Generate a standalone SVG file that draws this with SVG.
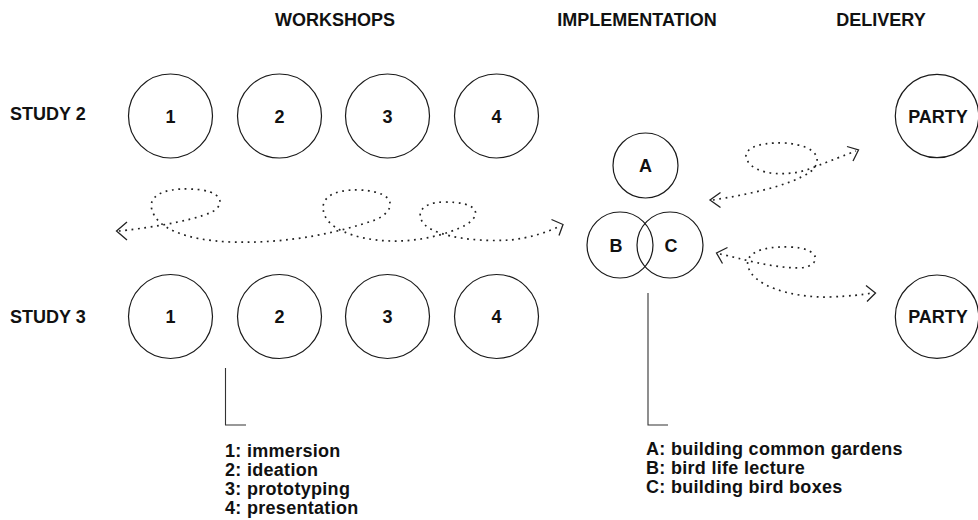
<svg xmlns="http://www.w3.org/2000/svg" width="978" height="520" viewBox="0 0 978 520">
<style>
.bg{fill:#ffffff}
.node{fill:none;stroke:#1a1a1a;stroke-width:1.2}
.t{font-family:"Liberation Sans",Arial,Helvetica,sans-serif;font-weight:bold;font-size:18px;fill:#111}
.c{text-anchor:middle}
.leg{font-family:"Liberation Sans",Arial,Helvetica,sans-serif;font-weight:bold;font-size:18px;fill:#111;letter-spacing:0.3px}
.dot{fill:none;stroke:#222;stroke-width:1.7;stroke-dasharray:1.8 4.6}
.head{fill:none;stroke:#222;stroke-width:1.3;stroke-linejoin:miter}
.line{fill:none;stroke:#333;stroke-width:1.1}
</style>
<rect class="bg" x="0" y="0" width="978" height="520"/>

<g id="headers">
<text class="t c" x="335" y="26">WORKSHOPS</text>
<text class="t c" x="637" y="26">IMPLEMENTATION</text>
<text class="t c" x="881" y="26">DELIVERY</text>
</g>

<g id="row-labels">
<text class="t" x="10" y="120">STUDY 2</text>
<text class="t" x="10" y="323">STUDY 3</text>
</g>

<g id="study2-w1"><circle class="node" cx="170.5" cy="116" r="42"/><text class="t c" x="170.5" y="122.5">1</text></g>
<g id="study2-w2"><circle class="node" cx="279.5" cy="116" r="42"/><text class="t c" x="279.5" y="122.5">2</text></g>
<g id="study2-w3"><circle class="node" cx="387.5" cy="116" r="42"/><text class="t c" x="387.5" y="122.5">3</text></g>
<g id="study2-w4"><circle class="node" cx="496.5" cy="116" r="42"/><text class="t c" x="496.5" y="122.5">4</text></g>

<g id="study3-w1"><circle class="node" cx="170.5" cy="316.5" r="42"/><text class="t c" x="170.5" y="323">1</text></g>
<g id="study3-w2"><circle class="node" cx="279.5" cy="316.5" r="42"/><text class="t c" x="279.5" y="323">2</text></g>
<g id="study3-w3"><circle class="node" cx="387.5" cy="316.5" r="42"/><text class="t c" x="387.5" y="323">3</text></g>
<g id="study3-w4"><circle class="node" cx="496.5" cy="316.5" r="42"/><text class="t c" x="496.5" y="323">4</text></g>

<g id="impl-A"><circle class="node" cx="645.5" cy="165.5" r="32.5"/><text class="t c" x="645.5" y="172">A</text></g>
<g id="impl-B"><circle class="node" cx="620" cy="245" r="33"/><text class="t c" x="616" y="251.5">B</text></g>
<g id="impl-C"><circle class="node" cx="670" cy="245" r="33"/><text class="t c" x="671" y="251.5">C</text></g>

<g id="party-2"><circle class="node" cx="937" cy="116" r="41.7"/><text class="t c" x="938" y="122.5">PARTY</text></g>
<g id="party-3"><circle class="node" cx="937" cy="316.7" r="41.7"/><text class="t c" x="938" y="323">PARTY</text></g>

<g id="connectors">
<path class="dot" d="M119,231 C140,229 190,222 212,212 C225,205 225,190 190,189 C160,188 148,198 152,210 C157,228 185,240 230,242 C290,244 340,232 375,220 C395,212 400,192 360,190 C330,189 318,200 325,216 C332,232 365,242 400,241 C430,240 460,230 470,222 C482,212 475,202 445,202 C420,202 415,215 425,225 C440,238 480,242 510,240 C530,238 548,232 560,226"/>
<polyline class="head" points="127,222 116.5,231 127,240"/>
<polyline class="head" points="551.5,219.5 563,224.5 559,235.5"/>

<path class="dot" d="M713,200 C745,195 790,186 810,172 C822,163 822,146 785,143 C755,142 742,150 747,160 C755,176 790,177 812,168 C830,161 845,155 856,151"/>
<polyline class="head" points="720.5,192.5 710,200 720.5,207.5"/>
<polyline class="head" points="847,146.5 858.5,150 853,161"/>

<path class="dot" d="M720,254 C740,258 770,268 800,268 C822,266 822,248 790,247 C760,246 745,254 748,266 C752,285 790,298 830,297 C850,296 862,295 872,293"/>
<polyline class="head" points="727.5,247.5 716.5,253 722.5,263.5"/>
<polyline class="head" points="866,285.5 875.5,293 867,301.5"/>

<polyline class="line" points="225.5,368 225.5,425 246,425"/>
<polyline class="line" points="648,293 648,425 668,425"/>
</g>

<g id="legend-workshops">
<text class="leg" x="225" y="457">1: immersion</text>
<text class="leg" x="225" y="476">2: ideation</text>
<text class="leg" x="225" y="495">3: prototyping</text>
<text class="leg" x="225" y="514">4: presentation</text>
</g>
<g id="legend-implementation">
<text class="leg" x="646" y="455">A: building common gardens</text>
<text class="leg" x="646" y="474">B: bird life lecture</text>
<text class="leg" x="646" y="493">C: building bird boxes</text>
</g>
</svg>
